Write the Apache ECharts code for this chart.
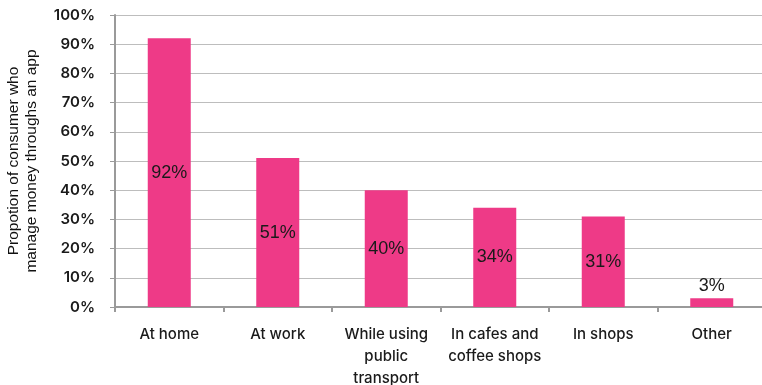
<!DOCTYPE html>
<html>
<head>
<meta charset="utf-8">
<script src="https://cdn.jsdelivr.net/npm/echarts@6/dist/echarts.min.js"></script>
<style>
  html, body { margin: 0; padding: 0; background: #fff; }
  #chart { width: 762px; height: 385px; }
</style>
</head>
<body>
<div id="chart"></div>
<script>
// Where consumers manage money through an app
const categories = ['At home', 'At work', 'While using\npublic\ntransport', 'In cafes and\ncoffee shops', 'In shops', 'Other'];
const shares = [92, 51, 40, 34, 31, 3];
const yTicks = [0, 10, 20, 30, 40, 50, 60, 70, 80, 90, 100];

const barColor = '#EE3A87';
const chart = echarts.init(document.getElementById('chart'));

chart.setOption({
  animation: false,
  grid: { left: 115, right: -4, top: 15, bottom: 78, containLabel: false, outerBoundsMode: 'none' },
  xAxis: {
    type: 'category',
    data: categories,
    axisLine: { lineStyle: { color: '#9a9a9a', width: 2 } },
    axisTick: { show: true, length: 5, lineStyle: { color: '#9a9a9a', width: 2 } },
    axisLabel: {
      color: '#1a1a1a', fontFamily: 'Inter', fontWeight: 500, fontSize: 15,
      lineHeight: 22, margin: 16, interval: 0
    }
  },
  yAxis: {
    type: 'value',
    min: yTicks[0],
    max: yTicks[yTicks.length - 1],
    interval: 10,
    name: 'Propotion of consumer who\nmanage money throughs an app',
    nameLocation: 'middle',
    nameGap: 74,
    nameTextStyle: { color: '#111', fontFamily: 'Liberation Sans', fontSize: 15.5, lineHeight: 18 },
    axisLine: { show: true, lineStyle: { color: '#9a9a9a', width: 2 } },
    axisTick: { show: true, length: 5, lineStyle: { color: '#9a9a9a', width: 1 } },
    splitLine: { lineStyle: { color: '#bdbdbd', width: 1 } },
    axisLabel: {
      color: '#1a1a1a', fontFamily: 'Inter', fontWeight: 600, fontSize: 15, margin: 20,
      formatter: v => v + '%'
    }
  },
  series: [{
    type: 'bar',
    data: shares.map(v => ({
      value: v,
      label: { position: v < 10 ? 'top' : 'inside' }
    })),
    barWidth: 43,
    itemStyle: { color: barColor },
    label: {
      show: true,
      color: '#1a1a1a',
      fontFamily: 'Liberation Sans',
      fontSize: 18,
      distance: 3,
      formatter: p => p.value + '%'
    }
  }]
});
</script>
</body>
</html>
